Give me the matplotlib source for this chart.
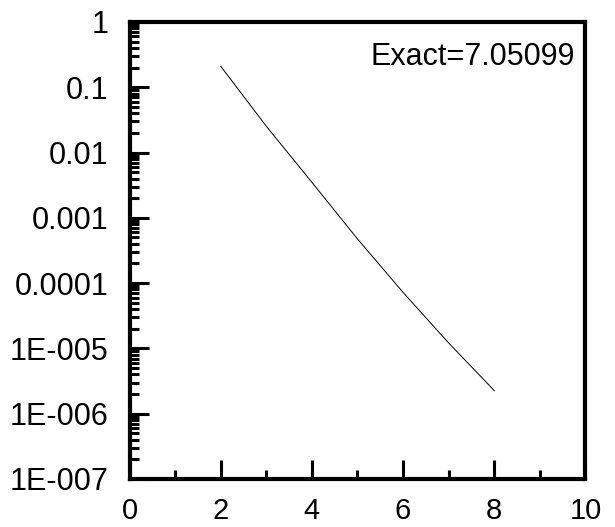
import matplotlib
matplotlib.use("Agg")
import matplotlib.pyplot as plt
from matplotlib.ticker import LogLocator, NullFormatter, FixedLocator

# values
x_vals = [2, 3, 4, 5, 6, 7, 8]
y_vals = [0.21, 0.0253, 0.0035, 4.75e-4, 7.2e-5, 1.21e-5, 2.26e-6]

y_ticks = [1, 0.1, 0.01, 0.001, 0.0001, 1e-5, 1e-6, 1e-7]
y_ticklabels = ["1", "0.1", "0.01", "0.001", "0.0001", "1E-005", "1E-006", "1E-007"]
x_ticks = [0, 2, 4, 6, 8, 10]
x_minor = [1, 3, 5, 7, 9]
exact_label = "Exact=7.05099"

plt.rcParams["font.family"] = ["Liberation Sans", "DejaVu Sans"]

fig = plt.figure(figsize=(6.15, 5.27), dpi=100)
ax = fig.add_axes([0.2106, 0.0911, 0.952 - 0.2106, 0.9583 - 0.0911])

ax.plot(x_vals, y_vals, color="black", linewidth=0.7)

ax.set_yscale("log")
ax.set_xlim(0, 10)
ax.set_ylim(1e-7, 1)

ax.yaxis.set_major_locator(FixedLocator(y_ticks))
ax.set_yticklabels(y_ticklabels)
ax.yaxis.set_minor_locator(LogLocator(base=10, subs=range(2, 10), numticks=20))
ax.yaxis.set_minor_formatter(NullFormatter())

ax.set_xticks(x_ticks)
ax.set_xticklabels([str(v) for v in x_ticks])
ax.xaxis.set_minor_locator(FixedLocator(x_minor))

for side in ("left", "right", "top", "bottom"):
    ax.spines[side].set_linewidth(3.0)

ax.tick_params(which="both", direction="in", top=False, right=False, width=2.2)
ax.tick_params(which="major", length=14)
ax.tick_params(which="minor", length=6.5)
ax.tick_params(axis="y", which="major", pad=15, labelsize=22)
ax.tick_params(axis="x", which="major", pad=13, labelsize=21)

ax.text(0.977, 0.906, exact_label, transform=ax.transAxes,
        ha="right", va="baseline", fontsize=22)

fig.savefig("out.png", dpi=100)
